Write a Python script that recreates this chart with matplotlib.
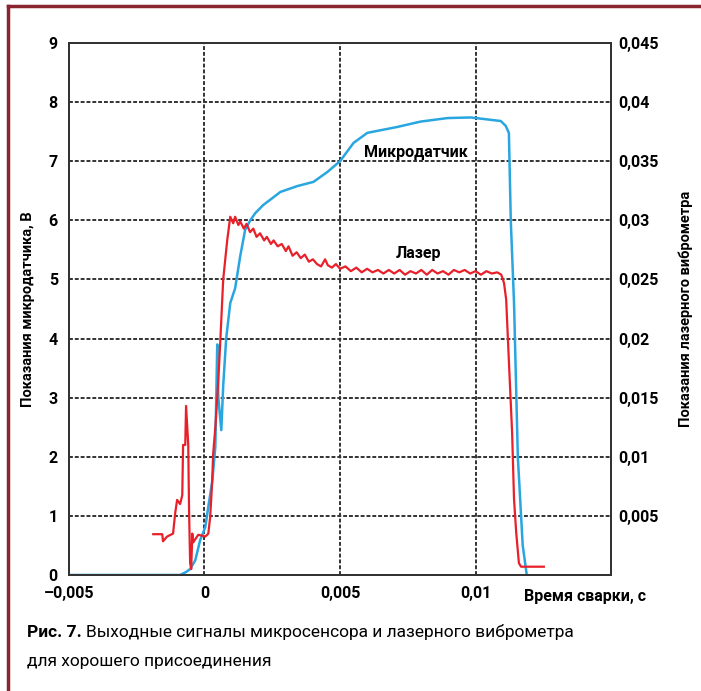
import matplotlib
matplotlib.use('Agg')
import matplotlib.pyplot as plt
from matplotlib.lines import Line2D

plt.rcParams['font.family'] = ['Roboto', 'DejaVu Sans']

# microsensor signal: time in ms, voltage in V (left axis)
sensor_t = [-5.0, -0.90, -0.68, -0.53, -0.34, -0.16, 0.03, 0.14, 0.29, 0.40,
            0.47, 0.51, 0.62, 0.69, 0.80, 0.95, 1.13, 1.32, 1.50, 1.69,
            1.87, 2.17, 2.43, 2.80, 3.43, 4.02, 4.54, 5.00, 5.50, 6.01,
            7.12, 7.97, 8.97, 9.82, 10.56, 10.93, 11.11, 11.23, 11.30, 11.42,
            11.56, 11.74, 11.89]
sensor_v = [0.0, 0.0, 0.05, 0.10, 0.25, 0.59, 0.81, 1.15, 1.60, 2.17,
            3.90, 3.00, 2.45, 3.20, 4.00, 4.60, 4.85, 5.40, 5.84, 6.00,
            6.12, 6.26, 6.35, 6.48, 6.58, 6.65, 6.82, 7.00, 7.31, 7.48,
            7.58, 7.67, 7.73, 7.74, 7.70, 7.68, 7.60, 7.48, 6.00, 4.60,
            2.00, 0.50, 0.00]

# laser vibrometer signal: time in ms, reading (right axis)
laser_t = [-1.89, -1.56, -1.53, -1.38, -1.16, -1.08, -1.01, -0.90, -0.82, -0.79,
           -0.71, -0.68, -0.60, -0.57, -0.53, -0.49, -0.45, -0.42, -0.23, 0.03,
           0.14, 0.21, 0.28, 0.32, 0.40, 0.51, 0.58, 0.69, 0.84, 0.95,
           1.06, 1.13, 1.25, 1.32, 1.45, 1.55, 1.68, 1.80, 1.92, 2.05,
           2.20, 2.30, 2.45, 2.55, 2.70, 2.85, 3.00, 3.10, 3.25, 3.40,
           3.55, 3.70, 3.85, 4.00, 4.15, 4.30, 4.45, 4.55, 4.70, 4.85,
           5.00, 5.20, 5.40, 5.60, 5.80, 6.00, 6.20, 6.40, 6.60, 6.80,
           7.00, 7.20, 7.40, 7.60, 7.80, 8.00, 8.20, 8.40, 8.60, 8.80,
           9.00, 9.20, 9.40, 9.60, 9.80, 10.00, 10.20, 10.40, 10.60, 10.80,
           10.95, 11.05, 11.13, 11.24, 11.35, 11.42, 11.50, 11.60, 11.68, 12.52]
laser_v = [0.00345, 0.00345, 0.00285, 0.00325, 0.0035, 0.00525, 0.00635, 0.0060, 0.00675, 0.0110,
           0.0110, 0.0143, 0.0110, 0.0055, 0.0010, 0.0005, 0.0035, 0.00275, 0.0034, 0.00325,
           0.0035, 0.0049, 0.00775, 0.01025, 0.0125, 0.0165, 0.01965, 0.0250, 0.02835, 0.0303,
           0.02975, 0.0303, 0.0296, 0.0299, 0.0293, 0.0297, 0.0290, 0.0293, 0.0286, 0.0289,
           0.0283, 0.0286, 0.0280, 0.0283, 0.0278, 0.0280, 0.0274, 0.0278, 0.0270, 0.0273,
           0.0268, 0.0271, 0.0265, 0.0267, 0.0263, 0.0261, 0.0267, 0.0262, 0.0260, 0.0263,
           0.0259, 0.0261, 0.0257, 0.0260, 0.0256, 0.0259, 0.0256, 0.0258, 0.0255, 0.0258,
           0.0255, 0.0258, 0.0254, 0.0257, 0.0255, 0.0258, 0.0254, 0.0258, 0.0255, 0.0257,
           0.0254, 0.0258, 0.0256, 0.0258, 0.0255, 0.0257, 0.0254, 0.0257, 0.0255, 0.0256,
           0.0254, 0.0247, 0.0233, 0.0176, 0.0120, 0.0064, 0.0036, 0.0010, 0.0007, 0.0007]

x_ticks = [-5, 0, 5, 10, 15]
x_labels = ['–0,005', '0', '0,005', '0,01', '']
left_ticks = [0, 1, 2, 3, 4, 5, 6, 7, 8, 9]
right_ticks = [0, 0.005, 0.01, 0.015, 0.02, 0.025, 0.03, 0.035, 0.04, 0.045]
right_labels = ['', '0,005', '0,01', '0,015', '0,02', '0,025', '0,03', '0,035', '0,04', '0,045']

blue = '#29a6e0'
red = '#e8202a'
grid_col = '#333333'
dash = (0, (2, 1))

fig = plt.figure(figsize=(7.01, 6.91), dpi=100)
ax = fig.add_axes([0.0984, 0.1679, 0.7733, 0.7699])
ax2 = ax.twinx()

ax.plot(sensor_t, sensor_v, color=blue, lw=1.8)
ax2.plot(laser_t, laser_v, color=red, lw=1.6)

ax.set_xlim(-5, 15)
ax.set_ylim(0, 9)
ax2.set_ylim(0, 0.045)

ax.set_xticks(x_ticks)
ax.set_xticklabels(x_labels)
ax.set_yticks(left_ticks)
ax.set_yticklabels([str(v) for v in left_ticks])
ax2.set_yticks(right_ticks)
ax2.set_yticklabels(right_labels)

for lab in ax.get_xticklabels() + ax.get_yticklabels() + ax2.get_yticklabels():
    lab.set_fontsize(11.5)
    lab.set_fontweight('bold')
ax.tick_params(axis='both', length=0)
ax.tick_params(axis='x', pad=8)
ax.tick_params(axis='y', pad=8)
ax2.tick_params(axis='y', length=0, pad=5)

ax.grid(True, color=grid_col, linestyle=dash, linewidth=1.4)
for a in (ax, ax2):
    for sp in a.spines.values():
        sp.set_linestyle(dash)
        sp.set_color(grid_col)
        sp.set_linewidth(1.4)

ax.set_ylabel('Показания микродатчика, В', fontsize=10.5, fontweight='bold')
ax.yaxis.set_label_coords(-0.062, 0.5)
ax2.set_ylabel('Показания лазерного виброметра', fontsize=10.5, fontweight='bold', rotation=90)
ax2.yaxis.set_label_coords(1.125, 0.5)

ax.text(0.839, -0.026, 'Время сварки, с', transform=ax.transAxes,
        fontsize=11.5, fontweight='bold', ha='left', va='top')
ax.text(0.64, 0.795, 'Микродатчик', transform=ax.transAxes,
        fontsize=11.5, fontweight='bold', ha='center', va='center')
ax.text(0.645, 0.605, 'Лазер', transform=ax.transAxes,
        fontsize=11.5, fontweight='bold', ha='center', va='center')

# caption
t1 = fig.text(0.0385, 0.084, 'Рис. 7.', fontsize=12.5, fontweight='bold', va='center', ha='left')
ax.annotate('Выходные сигналы микросенсора и лазерного виброметра', xy=(1, 0), xycoords=t1,
            xytext=(3, 0), textcoords='offset points', fontsize=12.5, va='bottom', ha='left',
            annotation_clip=False)
fig.text(0.0385, 0.042, 'для хорошего присоединения', fontsize=12.5, va='center', ha='left')

# frame lines on left and top
border = '#8a2530'
fig.add_artist(Line2D([0.0107, 0.0107], [0, 0.9913], color=border, lw=2.5))
fig.add_artist(Line2D([0.0107, 1.0], [0.9913, 0.9913], color=border, lw=2.5))

fig.savefig('out.png', dpi=100)
